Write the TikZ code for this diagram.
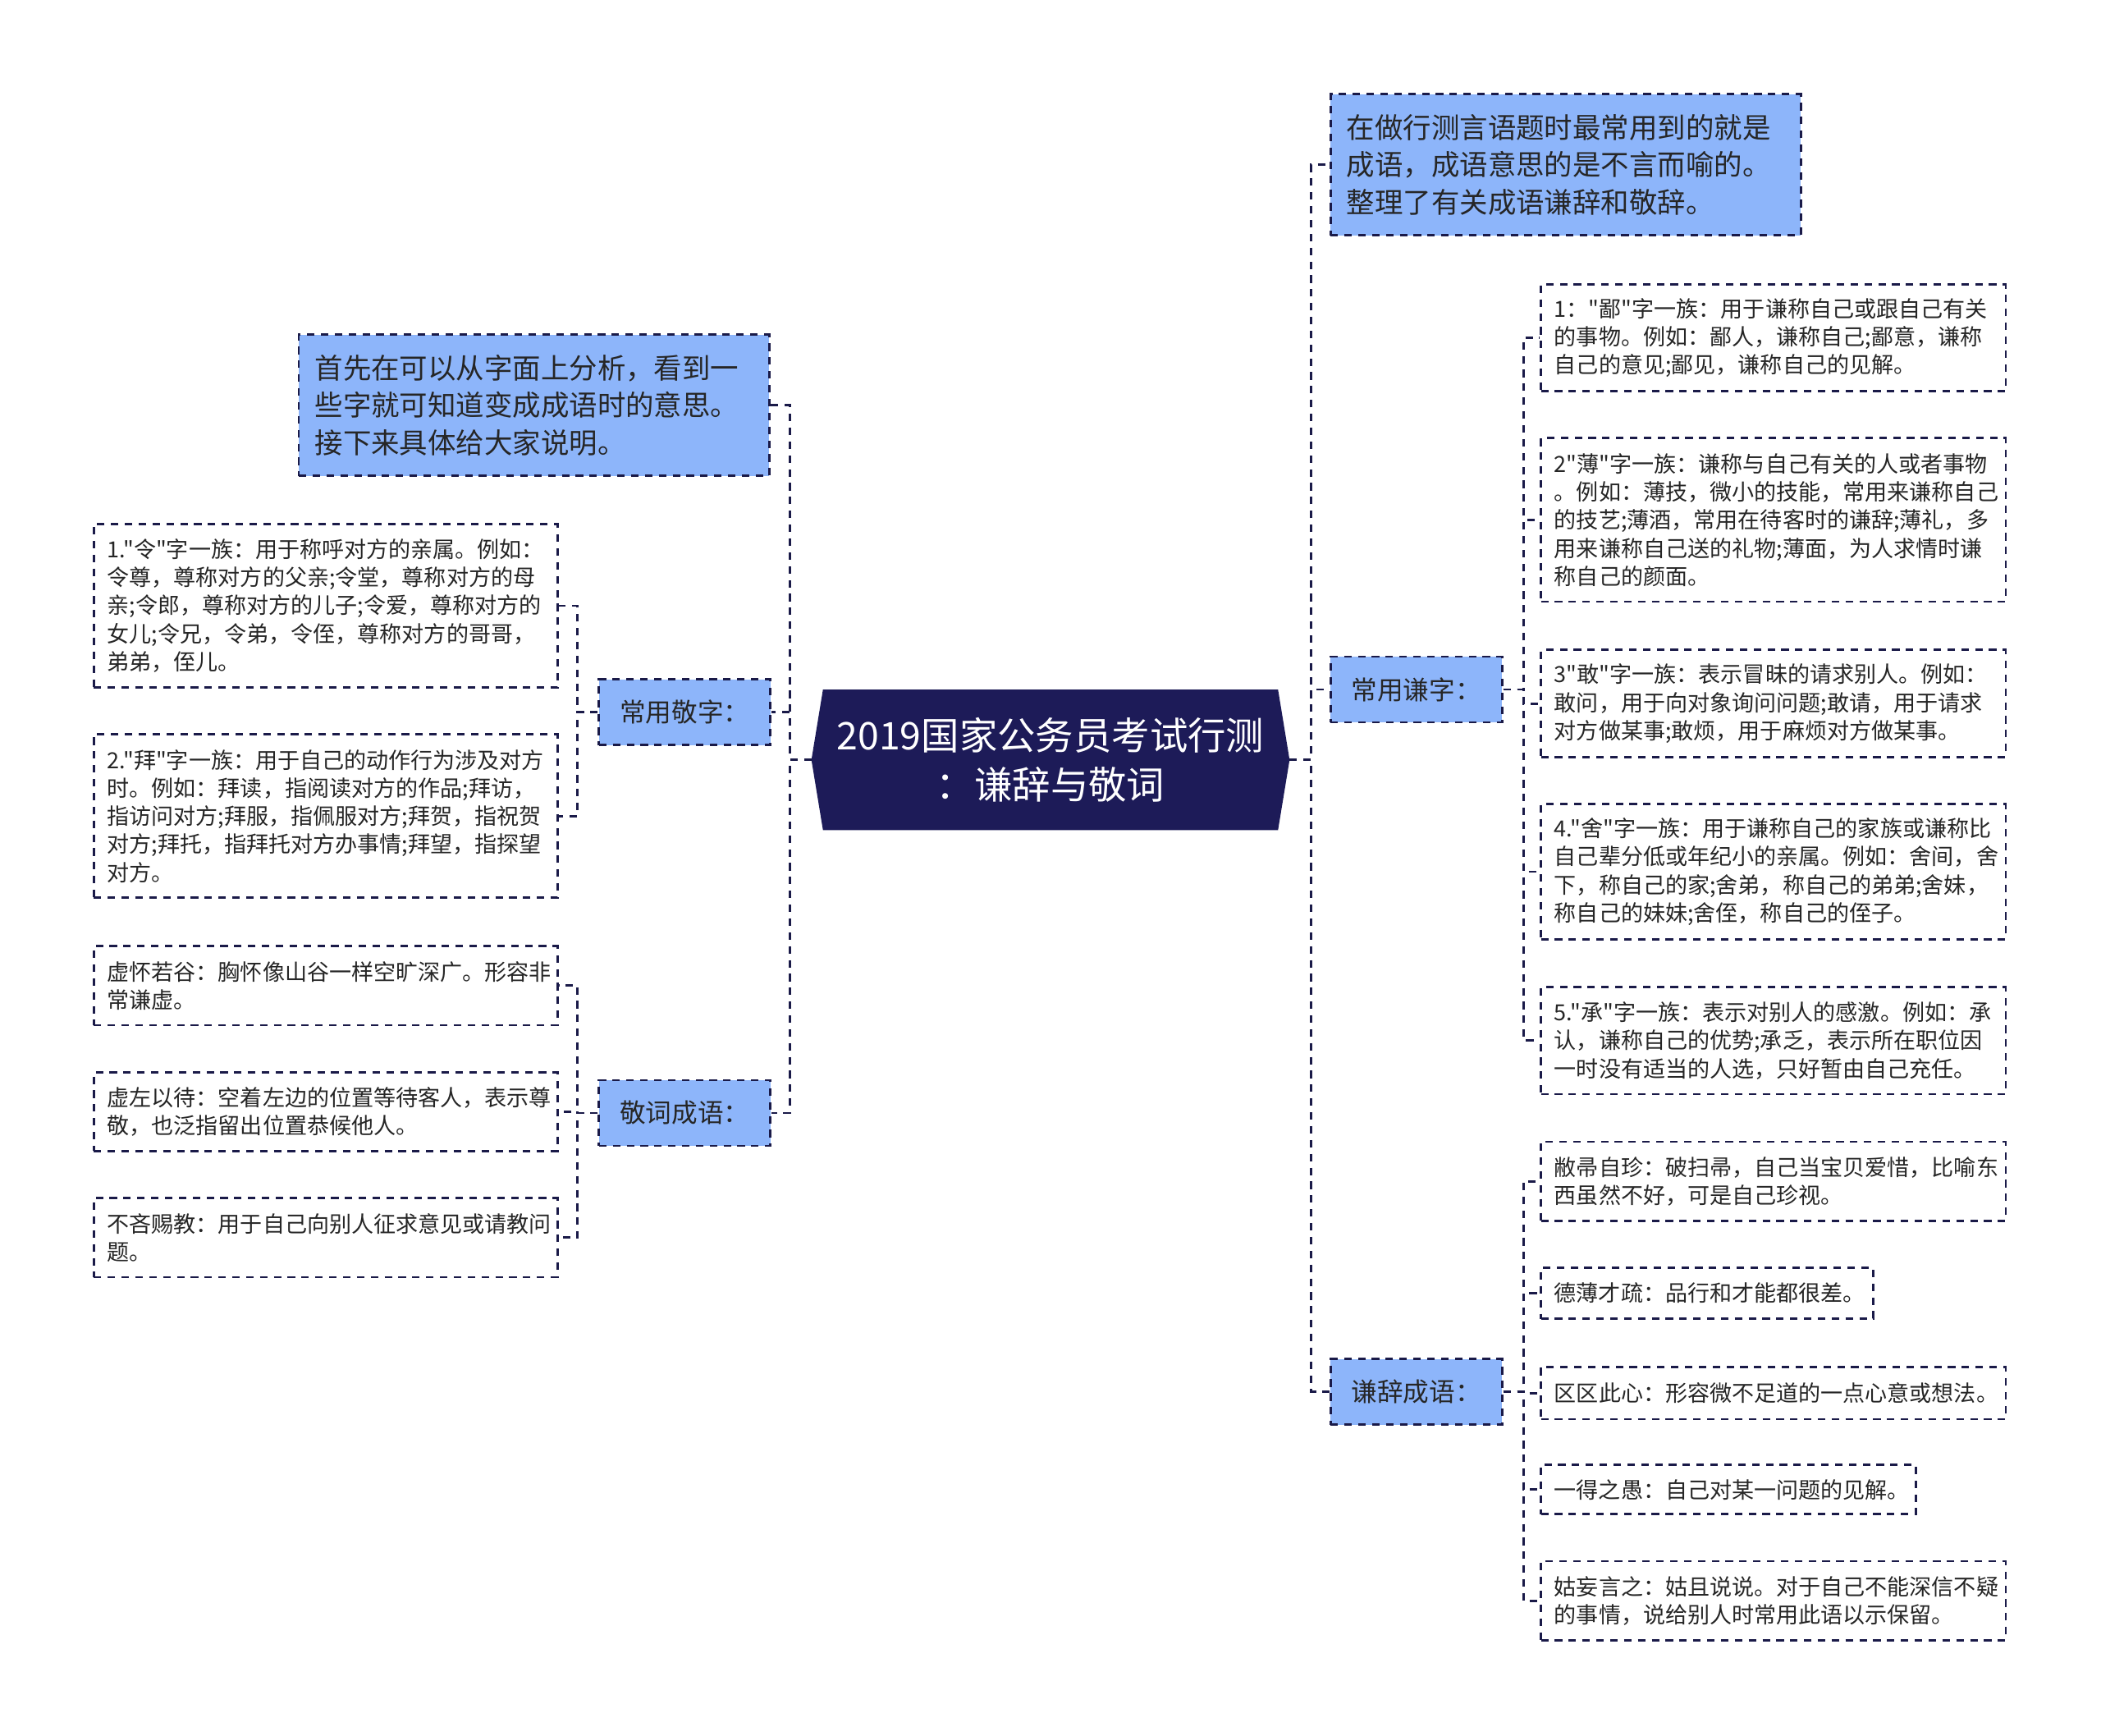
\documentclass[tikz,border=0pt]{standalone}
\usepackage{fontspec}
\setmainfont{Noto Sans CJK SC}[Ligatures=TeXOff]
\usetikzlibrary{backgrounds}

\definecolor{rootnavy}{RGB}{29,27,88}
\definecolor{boxblue}{RGB}{141,181,250}
\definecolor{linenavy}{RGB}{26,26,72}
\definecolor{textgray}{RGB}{38,38,38}

\tikzset{
  dashline/.style={line width=0.8pt, dash pattern=on 2.6pt off 2.2pt},
  link/.style={draw=linenavy, dashline},
  rootnode/.style={minimum width=5.812cm, minimum height=1.698cm, inner sep=0pt,
    align=center, text=white, font=\fontsize{13.2pt}{17.2pt}\selectfont},
  notebox/.style={draw=linenavy, dashline, fill=boxblue, text=textgray,
    text width=5.339cm, inner xsep=0.196cm, inner ysep=0pt, minimum height=1.72cm,
    align=left, font=\fontsize{9.8pt}{13pt}\selectfont},
  topic/.style={draw=linenavy, dashline, fill=boxblue, text=textgray,
    minimum width=2.09cm, minimum height=0.8cm, inner sep=0pt,
    font=\fontsize{9pt}{11pt}\selectfont},
  leaf/.style={draw=linenavy, dashline, fill=white, text=textgray,
    inner xsep=0.163cm, inner ysep=0pt, align=left,
    font=\fontsize{7.7pt}{9.75pt}\selectfont},
  leftleaf/.style={leaf, text width=5.323cm},
  rightleaf/.style={leaf, text width=5.339cm},
}

\begin{document}
\begin{tikzpicture}[x=0.016327cm, y=-0.016327cm]
\useasboundingbox (0,0) rectangle (1568,1295);

% centre
\node[rootnode] (root) at (784,567) {2019国家公务员考试行测\\：谦辞与敬词};
\begin{pgfonlayer}{background}
\fill[rootnavy] (root.west) -- ([xshift=4pt]root.north west) -- ([xshift=-4pt]root.north east)
  -- (root.east) -- ([xshift=-4pt]root.south east) -- ([xshift=4pt]root.south west) -- cycle;
\end{pgfonlayer}

% first level
\node[notebox] (intro) at (398.5,302.5) {首先在可以从字面上分析，看到一\\些字就可知道变成成语时的意思。\\接下来具体给大家说明。};
\node[topic] (jingzi) at (511,531.5) {常用敬字：};
\node[topic] (jingyu) at (511,830.5) {敬词成语：};
\node[notebox] (note) at (1168.5,123) {在做行测言语题时最常用到的就是\\成语，成语意思的是不言而喻的。\\整理了有关成语谦辞和敬辞。};
\node[topic] (qianzi) at (1057,514.5) {常用谦字：};
\node[topic] (qianyu) at (1057,1038.5) {谦辞成语：};

% left leaves
\node[leftleaf, minimum height=1.992cm] (ling) at (243,452) {1."令"字一族：用于称呼对方的亲属。例如：\\令尊，尊称对方的父亲;令堂，尊称对方的母\\亲;令郎，尊称对方的儿子;令爱，尊称对方的\\女儿;令兄，令弟，令侄，尊称对方的哥哥，\\弟弟，侄儿。};
\node[leftleaf, minimum height=1.992cm] (bai) at (243,609) {2."拜"字一族：用于自己的动作行为涉及对方\\时。例如：拜读，指阅读对方的作品;拜访，\\指访问对方;拜服，指佩服对方;拜贺，指祝贺\\对方;拜托，指拜托对方办事情;拜望，指探望\\对方。};
\node[leftleaf, minimum height=0.963cm] (xuhuai) at (243,735.5) {虚怀若谷：胸怀像山谷一样空旷深广。形容非\\常谦虚。};
\node[leftleaf, minimum height=0.963cm] (xuzuo) at (243,829.5) {虚左以待：空着左边的位置等待客人，表示尊\\敬，也泛指留出位置恭候他人。};
\node[leftleaf, minimum height=0.963cm] (buli) at (243,923.5) {不吝赐教：用于自己向别人征求意见或请教问\\题。};

% right leaves
\node[rightleaf, minimum height=1.306cm] (bi) at (1323.5,252) {1："鄙"字一族：用于谦称自己或跟自己有关\\的事物。例如：鄙人，谦称自己;鄙意，谦称\\自己的意见;鄙见，谦称自己的见解。};
\node[rightleaf, minimum height=1.992cm] (bo) at (1323.5,388) {2"薄"字一族：谦称与自己有关的人或者事物\\。例如：薄技，微小的技能，常用来谦称自己\\的技艺;薄酒，常用在待客时的谦辞;薄礼，多\\用来谦称自己送的礼物;薄面，为人求情时谦\\称自己的颜面。};
\node[rightleaf, minimum height=1.306cm] (gan) at (1323.5,525) {3"敢"字一族：表示冒昧的请求别人。例如：\\敢问，用于向对象询问问题;敢请，用于请求\\对方做某事;敢烦，用于麻烦对方做某事。};
\node[rightleaf, minimum height=1.649cm] (she) at (1323.5,650.5) {4."舍"字一族：用于谦称自己的家族或谦称比\\自己辈分低或年纪小的亲属。例如：舍间，舍\\下，称自己的家;舍弟，称自己的弟弟;舍妹，\\称自己的妹妹;舍侄，称自己的侄子。};
\node[rightleaf, minimum height=1.306cm] (cheng) at (1323.5,776.5) {5."承"字一族：表示对别人的感激。例如：承\\认，谦称自己的优势;承乏，表示所在职位因\\一时没有适当的人选，只好暂由自己充任。};
\node[rightleaf, minimum height=0.963cm] (bizhou) at (1323.5,881.5) {敝帚自珍：破扫帚，自己当宝贝爱惜，比喻东\\西虽然不好，可是自己珍视。};
\node[leaf, text width=3.723cm, minimum height=0.62cm] (debo) at (1274,965) {德薄才疏：品行和才能都很差。};
\node[rightleaf, minimum height=0.637cm] (ququ) at (1323.5,1039.5) {区区此心：形容微不足道的一点心意或想法。};
\node[leaf, text width=4.246cm, minimum height=0.604cm] (yide) at (1290,1111.5) {一得之愚：自己对某一问题的见解。};
\node[rightleaf, minimum height=0.963cm] (guwang) at (1323.5,1194.5) {姑妄言之：姑且说说。对于自己不能深信不疑\\的事情，说给别人时常用此语以示保留。};

% connectors
\draw[link] (root.west) -- ++(-16,0) |- (intro.east);
\draw[link] (root.west) -- ++(-16,0) |- (jingzi.east);
\draw[link] (root.west) -- ++(-16,0) |- (jingyu.east);
\draw[link] (root.east) -- ++(16,0) |- (note.west);
\draw[link] (root.east) -- ++(16,0) |- (qianzi.west);
\draw[link] (root.east) -- ++(16,0) |- (qianyu.west);

\draw[link] (jingzi.west) -- ++(-15,0) |- (ling.east);
\draw[link] (jingzi.west) -- ++(-15,0) |- (bai.east);
\draw[link] (jingyu.west) -- ++(-15,0) |- (xuhuai.east);
\draw[link] (jingyu.west) -- ++(-15,0) |- (xuzuo.east);
\draw[link] (jingyu.west) -- ++(-15,0) |- (buli.east);

\draw[link] (qianzi.east) -- ++(15,0) |- (bi.west);
\draw[link] (qianzi.east) -- ++(15,0) |- (bo.west);
\draw[link] (qianzi.east) -- ++(15,0) |- (gan.west);
\draw[link] (qianzi.east) -- ++(15,0) |- (she.west);
\draw[link] (qianzi.east) -- ++(15,0) |- (cheng.west);
\draw[link] (qianyu.east) -- ++(15,0) |- (bizhou.west);
\draw[link] (qianyu.east) -- ++(15,0) |- (debo.west);
\draw[link] (qianyu.east) -- ++(15,0) |- (ququ.west);
\draw[link] (qianyu.east) -- ++(15,0) |- (yide.west);
\draw[link] (qianyu.east) -- ++(15,0) |- (guwang.west);
\end{tikzpicture}
\end{document}
